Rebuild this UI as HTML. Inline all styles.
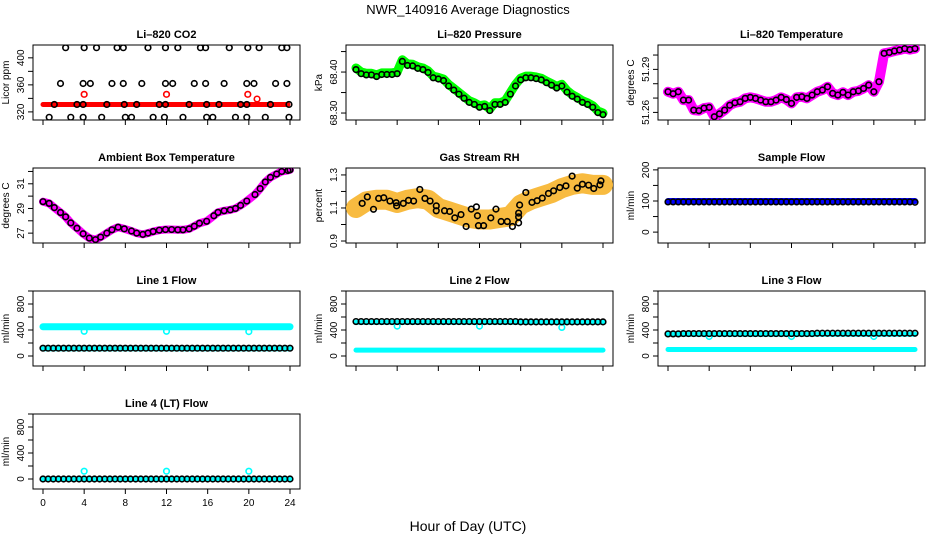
<!DOCTYPE html>
<html><head><meta charset="utf-8"><style>
body{margin:0;background:#fff;}
svg{display:block;font-family:"Liberation Sans",sans-serif;}
</style></head><body>
<svg id="c" width="936" height="540" viewBox="0 0 936 540">
<text x="468" y="14" text-anchor="middle" font-size="13">NWR_140916  Average Diagnostics</text>
<text x="468" y="531" text-anchor="middle" font-size="14">Hour of Day (UTC)</text>
</svg>
<script>
// ---- data ----
const xTicks=[0,4,8,12,16,20,24];
const co2TopHours=[2.2,4.0,5.2,7.2,7.8,10.2,11.9,13.1,15.3,15.8,18.1,19.9,21.0,23.2,23.7];
const co2MidHours=[1.7,3.9,4.6,6.7,7.8,9.6,11.9,12.6,14.7,15.8,17.6,19.8,20.5,22.6,23.7];
const co2LowHours=[0.6,2.7,3.9,5.7,8.0,8.6,10.7,11.8,13.6,15.9,16.5,18.7,19.8,21.6,23.9];
const co2BaseHours=[1.1,3.3,3.9,6.2,7.9,9.1,11.3,11.9,14.2,15.9,17.1,19.2,19.8,22.1,23.9];
const co2Levels=[415,362,312,331];
const co2RedHours=[0,23.8];
const co2RedVals=[331,331];
const co2RedOutHours=[4.0,12.0,19.9,20.8];
const co2RedOutVals=[346,346,346,339];
const halfHours=[0,0.5,1,1.5,2,2.5,3,3.5,4,4.5,5,5.5,6,6.5,7,7.5,8,8.5,9,9.5,10,10.5,11,11.5,12,12.5,13,13.5,14,14.5,15,15.5,16,16.5,17,17.5,18,18.5,19,19.5,20,20.5,21,21.5,22,22.5,23,23.5,24];
const pressVals=[68.41,68.40,68.397,68.397,68.393,68.398,68.398,68.398,68.40,68.43,68.42,68.419,68.413,68.41,68.403,68.39,68.387,68.383,68.37,68.36,68.35,68.34,68.33,68.325,68.318,68.32,68.31,68.325,68.325,68.33,68.35,68.37,68.385,68.39,68.39,68.388,68.385,68.378,68.372,68.365,68.37,68.355,68.345,68.338,68.33,68.325,68.318,68.305,68.30];
const tempVals=[51.2744,51.273,51.2744,51.2686,51.2686,51.2616,51.2612,51.263,51.2635,51.257,51.259,51.2616,51.265,51.2667,51.2674,51.2698,51.2705,51.2698,51.2686,51.2674,51.2674,51.2686,51.2705,51.269,51.2663,51.2705,51.2709,51.2698,51.2721,51.2744,51.2756,51.2779,51.2733,51.2721,51.274,51.2721,51.2744,51.275,51.2767,51.279,51.2744,51.2814,51.3012,51.3018,51.3028,51.3035,51.3045,51.3038,51.3045];
const ambHours=[0,0.6,1.1,1.7,2.2,2.7,3.3,3.9,4.5,5.1,5.6,6.2,6.7,7.3,7.9,8.6,9.1,9.7,10.2,10.7,11.3,11.9,12.5,13.1,13.6,14.2,14.7,15.2,15.9,16.6,17.0,17.6,18.2,18.7,19.2,19.8,20.6,21.1,21.6,22.1,22.7,23.2,23.8,24];
const ambVals=[29.55,29.41,29.07,28.67,28.32,27.83,27.4,26.95,26.6,26.47,26.68,27.0,27.27,27.48,27.35,27.17,27.0,26.9,27.0,27.13,27.24,27.29,27.29,27.27,27.27,27.35,27.56,27.8,27.96,28.41,28.68,28.81,28.89,29.0,29.25,29.6,30.13,30.61,31.15,31.52,31.79,32.0,32.08,32.13];
const rhHours=[0.6,1.1,1.7,2.2,2.7,3.3,3.9,3.95,4.6,5.1,5.6,6.2,6.7,7.2,7.8,7.8,8.6,9.1,9.6,10.2,10.7,11.2,11.7,11.8,11.9,12.4,13.1,13.6,14.1,14.7,15.2,15.8,15.8,15.8,15.9,16.5,17.1,17.6,18.1,18.7,19.2,19.8,20.4,21.0,21.5,22.0,22.6,23.1,23.7,23.8];
const rhVals=[1.128,1.167,1.092,1.158,1.162,1.142,1.132,1.113,1.128,1.146,1.142,1.212,1.158,1.142,1.113,1.083,1.083,1.079,1.040,1.060,0.988,1.093,1.107,1.053,0.993,0.993,1.040,1.093,1.018,1.018,0.988,1.069,1.046,1.010,1.118,1.194,1.134,1.144,1.160,1.188,1.204,1.224,1.234,1.293,1.220,1.244,1.238,1.218,1.240,1.264];
const rhBandHours=[0,1,2,3,4,5,6,7,8,9,10,11,12,13,14,15,16,17,18,19,20,21,22,23,24];
const rhBandVals=[1.10,1.14,1.15,1.15,1.13,1.15,1.16,1.15,1.10,1.08,1.06,1.04,1.03,1.03,1.04,1.05,1.12,1.15,1.17,1.19,1.22,1.24,1.25,1.24,1.24];
const sampleBlue=[100,100];
const sampleBlack=[97,97,97,97,97,97,97,97,97,97,97,97,97,97,97,97,97,97,97,97,97,97,97,97,97,97,97,97,97,97,97,97,97,97,97,97,97,97,97,97,97,97,97,97,97,97,97,97,96];
const ends=[0,24];
const outHours=[4,12,20];
const line1CyanHi=[450,450];const line1Out=[380,380,375];
const line1CyanLo=[110,110];
const line1Black=[120,120,120,120,120,120,120,120,120,120,120,120,120,120,120,120,120,120,120,120,120,120,120,120,120,120,120,120,120,120,120,120,120,120,120,120,120,120,120,120,120,120,120,120,120,120,120,120,120];
const line2CyanHi=[520,520];const line2Out=[460,460,440];
const line2CyanLo=[90,90];
const line2Black=[530,530,530,530,530,530,530,530,530,530,530,530,530,530,530,530,530,530,530,530,530,530,530,530,530,530,530,530,530,530,530,530,525,525,525,525,525,525,525,525,525,525,525,525,525,525,525,525,525];
const line3CyanHi=[335,335];const line3Out=[300,300,300];
const line3CyanLo=[100,100];
const line3Black=[340,340,340,345,345,345,345,345,345,345,345,345,345,345,345,345,345,345,345,345,345,345,345,345,345,345,345,345,345,350,350,350,350,350,350,350,350,350,350,350,350,350,350,350,350,350,350,350,350];
const line4Cyan=[0,0];const line4Out=[120,120,120];
const line4Black=[0,0,0,0,0,0,0,0,0,0,0,0,0,0,0,0,0,0,0,0,0,0,0,0,0,0,0,0,0,0,0,0,0,0,0,0,0,0,0,0,0,0,0,0,0,0,0,0,0];
// ---- drawing ----
const svg=document.getElementById('c');const NS='http://www.w3.org/2000/svg';
function mk(t,a,p){const e=document.createElementNS(NS,t);for(const k in a)e.setAttribute(k,a[k]);(p||svg).appendChild(e);return e;}
function panel(name,bx,by,y0,y1,yt,yl,title,ylab){
 const g=mk('g',{});
 
 
 const W=267,H=75;
 const X=h=>bx+10+h*247/24, Y=v=>by+H-(v-y0)/(y1-y0)*H;
 mk('rect',{x:bx,y:by,width:W,height:H,fill:'none',stroke:'#000','stroke-width':1},g);
 const t=mk('text',{x:bx+W/2,y:by-7,'text-anchor':'middle','font-size':11,'font-weight':'bold'},g);t.textContent=title;
 
 
 xTicks.forEach(h=>{mk('line',{x1:X(h),x2:X(h),y1:by+H,y2:by+H+5,stroke:'#000'},g);
  if(name==='line4-flow-panel'){const l=mk('text',{x:X(h),y:by+H+17,'text-anchor':'middle','font-size':10},g);l.textContent=h;
  
  }});
 yt.forEach(v=>mk('line',{x1:bx-5,x2:bx,y1:Y(v),y2:Y(v),stroke:'#000'},g));
 yl.forEach(s=>{const y=Y(+s);const l=mk('text',{x:bx-9,y:y,'text-anchor':'middle','font-size':10,transform:`rotate(-90 ${bx-9} ${y})`},g);l.textContent=s;
  
  });
 const yc=by+H/2;const a=mk('text',{x:bx-24,y:yc,'text-anchor':'middle','font-size':10,transform:`rotate(-90 ${bx-24} ${yc})`},g);a.textContent=ylab;
 
 
 const clip='cl'+name;const cp=mk('clipPath',{id:clip},g);mk('rect',{x:bx,y:by,width:W,height:H},cp);
 const d=mk('g',{'clip-path':`url(#${clip})`},g);
 return {band(hs,vs,col,w,nm){const p=mk('polyline',{points:hs.map((h,i)=>X(h)+','+Y(vs[i])).join(' '),fill:'none',stroke:col,'stroke-width':w,'stroke-linejoin':'round','stroke-linecap':'round'},d);
   
   },
  pts(hs,vs,col,r,nm){hs.forEach((h,i)=>{const c=mk('circle',{cx:X(h),cy:Y(vs[i]),r:r,fill:'none',stroke:col,'stroke-width':1.6},d);
   
   });}};
}
const rep=(a,v)=>a.map(()=>v);
let p=panel('co2-panel',33,45,308,419,[320,340,360,380,400],['320','360','400'],'Li\u2013820 CO2','Licor ppm');
p.band(co2RedHours,co2RedVals,'#f00',5,'co2-red-band');
p.pts(co2RedOutHours,co2RedOutVals,'#f00',2.8,'co2-red-point');
p.pts(co2TopHours,rep(co2TopHours,co2Levels[0]),'#000',2.8,'co2-point');
p.pts(co2MidHours,rep(co2MidHours,co2Levels[1]),'#000',2.8,'co2-point');
p.pts(co2LowHours,rep(co2LowHours,co2Levels[2]),'#000',2.8,'co2-point');
p.pts(co2BaseHours,rep(co2BaseHours,co2Levels[3]),'#000',2.8,'co2-point');
p=panel('pressure-panel',346,45,68.283,68.466,[68.30,68.35,68.40,68.45],['68.30','68.40'],'Li\u2013820 Pressure','kPa');
p.band(halfHours,pressVals,'#0f0',9,'pressure-green-band');
p.pts(halfHours,pressVals.map(v=>v-0.004),'#000',2.8,'pressure-point');
p=panel('temperature-panel',658,45,51.2547,51.307,[51.26,51.27,51.28,51.29,51.30],['51.26','51.29'],'Li\u2013820 Temperature','degrees C');
p.band(halfHours,tempVals,'#f0f',10,'temperature-magenta-band');
p.pts(halfHours,tempVals,'#000',2.8,'temperature-point');
p=panel('ambient-panel',33,168,26.2,32.28,[27,28,29,30,31,32],['27','29','31'],'Ambient Box Temperature','degrees C');
p.band(ambHours,ambVals,'#f0f',8,'ambient-magenta-band');
p.pts(ambHours,ambVals,'#000',2.8,'ambient-point');
p=panel('rh-panel',346,168,0.888,1.342,[0.9,1.0,1.1,1.2,1.3],['0.9','1.1','1.3'],'Gas Stream RH','percent');
p.band(rhBandHours,rhBandVals,'#f8bb40',20,'rh-orange-band');
p.pts(rhHours,rhVals,'#000',2.8,'rh-point');
p=panel('sample-flow-panel',658,168,-35,206,[0,50,100,150,200],['0','100','200'],'Sample Flow','ml/min');
p.band(ends,sampleBlue,'#00f',6,'sample-blue-band');
p.pts(halfHours,sampleBlack,'#000',2.8,'sample-point');
p=panel('line1-flow-panel',33,291,-154,1000,[0,200,400,600,800,1000],['0','400','800'],'Line 1 Flow','ml/min');
p.band(ends,line1CyanHi,'#0ff',7,'line1-cyan-high');
p.pts(outHours,line1Out,'#0ff',2.8,'line1-cyan-point');
p.band(ends,line1CyanLo,'#0ff',5,'line1-cyan-low');
p.pts(halfHours,line1Black,'#000',2.8,'line1-point');
p=panel('line2-flow-panel',346,291,-154,1000,[0,200,400,600,800,1000],['0','400','800'],'Line 2 Flow','ml/min');
p.band(ends,line2CyanHi,'#0ff',5,'line2-cyan-high');
p.pts(outHours,line2Out,'#0ff',2.8,'line2-cyan-point');
p.band(ends,line2CyanLo,'#0ff',5,'line2-cyan-low');
p.pts(halfHours,line2Black,'#000',2.8,'line2-point');
p=panel('line3-flow-panel',658,291,-154,1000,[0,200,400,600,800,1000],['0','400','800'],'Line 3 Flow','ml/min');
p.band(ends,line3CyanHi,'#0ff',5,'line3-cyan-high');
p.pts(outHours,line3Out,'#0ff',2.8,'line3-cyan-point');
p.band(ends,line3CyanLo,'#0ff',5,'line3-cyan-low');
p.pts(halfHours,line3Black,'#000',2.8,'line3-point');
p=panel('line4-flow-panel',33,414,-154,1000,[0,200,400,600,800,1000],['0','400','800'],'Line 4 (LT) Flow','ml/min');
p.band(ends,line4Cyan,'#0ff',5,'line4-cyan-band');
p.pts(outHours,line4Out,'#0ff',2.8,'line4-cyan-point');
p.pts(halfHours,line4Black,'#000',2.8,'line4-point');
</script>
</body></html>
